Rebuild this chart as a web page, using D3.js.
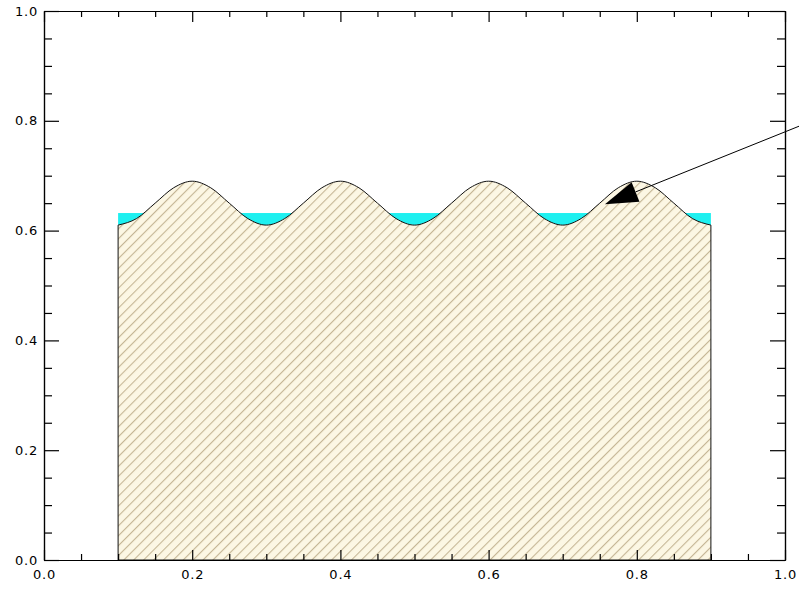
<!DOCTYPE html>
<html>
<head>
<meta charset="utf-8">
<script src="https://cdn.jsdelivr.net/npm/d3@7"></script>
<style>
  html, body { margin: 0; padding: 0; background: #fff; }
  svg { display: block; }
</style>
</head>
<body>
<svg id="chart" width="799" height="591"></svg>
<script>
// Wavy top edge of the filled region (x, y samples)
const curveX = [0.100, 0.125, 0.150, 0.175, 0.200, 0.225, 0.250, 0.275, 0.300,
                0.325, 0.350, 0.375, 0.400, 0.425, 0.450, 0.475, 0.500,
                0.525, 0.550, 0.575, 0.600, 0.625, 0.650, 0.675, 0.700,
                0.725, 0.750, 0.775, 0.800, 0.825, 0.850, 0.875, 0.900];
const curveY = [0.610, 0.622, 0.650, 0.678, 0.690, 0.678, 0.650, 0.622, 0.610,
                0.622, 0.650, 0.678, 0.690, 0.678, 0.650, 0.622, 0.610,
                0.622, 0.650, 0.678, 0.690, 0.678, 0.650, 0.622, 0.610,
                0.622, 0.650, 0.678, 0.690, 0.678, 0.650, 0.622, 0.610];
// Region baseline
const baseY = 0.0;
// Cyan band behind the region
const bandX = [0.1, 0.9];
const bandY = [0.61, 0.632];
// Annotation arrow: tail and head
const arrowFrom = [1.05, 0.807];
const arrowTo = [0.757, 0.648];
// Axis ticks
const majorTicks = [0.0, 0.2, 0.4, 0.6, 0.8, 1.0];
const minorTicks = [0.05, 0.10, 0.15, 0.25, 0.30, 0.35, 0.45, 0.50, 0.55,
                    0.65, 0.70, 0.75, 0.85, 0.90, 0.95];
const tickLabels = ["0.0", "0.2", "0.4", "0.6", "0.8", "1.0"];

const svg = d3.select("#chart");
const plotLeft = 44, plotRight = 785, plotTop = 11, plotBottom = 560;

const x = d3.scaleLinear().domain([0, 1]).range([plotLeft, plotRight]);
const y = d3.scaleLinear().domain([0, 1]).range([plotBottom, plotTop]);

// Diagonal hatch pattern
const defs = svg.append("defs");
const pat = defs.append("pattern")
  .attr("id", "hatch")
  .attr("patternUnits", "userSpaceOnUse")
  .attr("width", 7).attr("height", 7)
  .attr("patternTransform", "rotate(45)");
pat.append("rect").attr("width", 7).attr("height", 7).attr("fill", "#fcf7e4");
pat.append("line")
  .attr("x1", 0.6).attr("y1", -1).attr("x2", 0.6).attr("y2", 8)
  .attr("stroke", "#b3a27c").attr("stroke-width", 0.85);

// Cyan band
svg.append("rect")
  .attr("x", x(bandX[0])).attr("y", y(bandY[1]))
  .attr("width", x(bandX[1]) - x(bandX[0]))
  .attr("height", y(bandY[0]) - y(bandY[1]))
  .attr("fill", "#1ef0f0");

// Filled, hatched region bounded by the wavy curve
const topLine = d3.line()
  .x(d => x(d[0])).y(d => y(d[1]))
  .curve(d3.curveMonotoneX);
const topPath = topLine(curveX.map((v, i) => [v, curveY[i]]));
const regionPath = `M${x(curveX[0])},${y(baseY)}L` + topPath.slice(1) +
  `L${x(curveX[curveX.length - 1])},${y(baseY)}Z`;

svg.append("path")
  .attr("d", regionPath)
  .attr("fill", "url(#hatch)")
  .attr("stroke", "#111")
  .attr("stroke-width", 1);

// Axes: ticks point into the plot from all four sides
function styleAxis(g) {
  g.select(".domain").attr("stroke", "#000").attr("stroke-width", 1.2);
  g.selectAll(".tick line").attr("stroke", "#000").attr("stroke-width", 1.2);
  g.selectAll(".tick text")
    .attr("font-family", "DejaVu Sans, sans-serif")
    .attr("font-size", 13)
    .attr("letter-spacing", "0.8px")
    .attr("fill", "#000");
}
const fmt = (d) => tickLabels[majorTicks.indexOf(d)];

function tickAxis(axisFn, scale, pos, horizontal, values, size) {
  svg.append("g")
    .attr("transform", horizontal ? `translate(0,${pos})` : `translate(${pos},0)`)
    .call(axisFn(scale).tickValues(values).tickFormat("").tickSize(size).tickSizeOuter(0))
    .call(styleAxis);
}

// bottom edge (ticks upward)
tickAxis(d3.axisTop, x, plotBottom, true, majorTicks, 10);
tickAxis(d3.axisTop, x, plotBottom, true, minorTicks, 6);
// top edge (ticks downward)
tickAxis(d3.axisBottom, x, plotTop, true, majorTicks, 11);
tickAxis(d3.axisBottom, x, plotTop, true, minorTicks, 6);
// left edge (ticks rightward)
tickAxis(d3.axisRight, y, plotLeft, false, majorTicks, 15);
tickAxis(d3.axisRight, y, plotLeft, false, minorTicks, 8);
// right edge (ticks leftward)
tickAxis(d3.axisLeft, y, plotRight, false, majorTicks, 15);
tickAxis(d3.axisLeft, y, plotRight, false, minorTicks, 8);

// tick labels
const xLab = svg.append("g").attr("transform", `translate(0,${plotBottom})`)
  .call(d3.axisBottom(x).tickValues(majorTicks).tickFormat(fmt).tickSize(0).tickPadding(10).tickSizeOuter(0))
  .call(styleAxis);
xLab.select(".domain").remove();
const yLab = svg.append("g").attr("transform", `translate(${plotLeft},0)`)
  .call(d3.axisLeft(y).tickValues(majorTicks).tickFormat(fmt).tickSize(0).tickPadding(6).tickSizeOuter(0))
  .call(styleAxis);
yLab.select(".domain").remove();

// Annotation arrow
const x0 = x(arrowFrom[0]), y0 = y(arrowFrom[1]);
const x1 = x(arrowTo[0]), y1 = y(arrowTo[1]);
const ang = Math.atan2(y1 - y0, x1 - x0);
const headLen = 33, headHalf = 10.5;
const bx = x1 - headLen * Math.cos(ang), by = y1 - headLen * Math.sin(ang);
svg.append("line")
  .attr("x1", x0).attr("y1", y0).attr("x2", bx).attr("y2", by)
  .attr("stroke", "#000").attr("stroke-width", 1);
svg.append("path")
  .attr("d", `M${x1},${y1}L${bx - headHalf * Math.sin(ang)},${by + headHalf * Math.cos(ang)}` +
             `L${bx + headHalf * Math.sin(ang)},${by - headHalf * Math.cos(ang)}Z`)
  .attr("fill", "#000");
</script>
</body>
</html>
